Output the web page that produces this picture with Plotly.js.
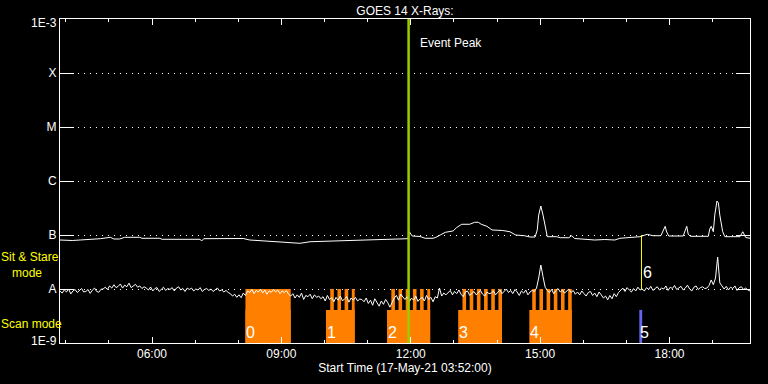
<!DOCTYPE html>
<html><head><meta charset="utf-8">
<script src="https://cdn.plot.ly/plotly-3.0.1.min.js"></script>
<style>html,body{margin:0;padding:0;background:#000;}#chart{width:768px;height:384px;}</style>
</head><body><div id="chart"></div>
<script>
// ---------------- data ----------------
const DAY = '2021-05-17';
const START = '03:52';
const END = '19:52';
const SHORT_STEP_MIN = 3;          // cadence of the short channel samples
const FLUX_UNIT = 1e-9;            // values below are in nW/m^2

// GOES long channel (1-8 A)
const longTimes = [
 '03:52','04:09','04:20','04:38','04:48','05:02','05:07','05:15','05:22','05:43',
 '05:46','06:11','06:14','07:07','07:09','07:12','07:44','07:56','08:07','08:16',
 '08:30','08:44','09:12','09:26','09:40','10:22','11:03','11:45','11:56','11:58',
 '12:02','12:13','12:20','12:31','12:35','12:41','12:48','12:59','13:04','13:11',
 '13:22','13:29','13:34','13:38','13:46','13:53','14:08','14:18','14:26','14:38',
 '14:46','14:53','14:56','14:58','15:01','15:04','15:07','15:10','15:23','15:28',
 '15:40','15:44','15:48','16:02','16:16','16:30','16:44','16:51','17:08','17:19',
 '17:29','17:37','17:48','17:51','17:54','17:56','17:59','18:19','18:22','18:24',
 '18:26','18:29','18:54','18:56','18:58','19:01','19:03','19:06','19:08','19:10',
 '19:14','19:17','19:38','19:42','19:46','19:52'];
const longFlux = [
 80.8,79.1,80.8,82.5,85.4,90.6,84.3,84.3,90.6,90.6,
 86.9,86.9,83.2,83.2,77.4,85.4,86.1,88.0,86.1,80.8,
 78.4,75.8,73.2,70.2,75.1,78.4,83.2,85.4,85.4,115,
 95.8,93.8,86.9,86.9,90.6,100,112,119,138,158,
 158,172,172,158,145,124,121,115,100,97,
 91.8,91.8,124,234,344,234,135,93,93,89.1,
 89.1,97,86.1,83.2,80.8,82.5,80.8,86.9,89.1,93,
 103,97,97,119,145,114,95.8,95.8,124,145,
 104,94.6,94.6,129,145,115,234,426,392,234,
 115,93,93,115,89.9,86.9];

// GOES short channel (0.5-4 A), one value every 3 min from START
const shortFlux = [
 9.2,8.4,9.6,8.8,10.0,8.1,9.2,9.8,8.6,9.4,10.2,8.8,9.0,9.8,8.3,9.5,10.4,9.0,8.7,9.9,
 10.0,10.8,9.8,11.4,10.4,12.0,10.6,11.2,12.4,10.4,11.8,11.0,12.8,10.6,11.6,12.2,10.8,11.4,10.2,11.0,
 10.4,9.6,10.9,9.2,10.2,10.6,9.0,10.0,10.8,9.4,10.2,9.8,10.6,9.2,10.4,11.0,9.6,10.2,9.0,10.4,
 9.8,10.4,9.2,10.0,9.6,10.6,9.0,9.8,10.2,9.4,10.0,9.0,9.8,10.4,9.2,9.6,8.8,9.4,8.6,8.2,
 7.4,8.0,7.0,7.8,6.9,8.4,7.6,9.2,8.6,9.8,8.2,9.4,8.8,9.9,8.4,9.6,8.0,9.2,8.7,9.8,
 8.8,9.6,8.2,9.2,8.6,9.4,8.0,7.4,8.2,6.8,7.8,7.0,8.4,6.4,7.6,7.2,8.0,6.6,7.8,7.0,
 7.4,6.6,7.2,6.0,7.6,6.4,6.9,5.8,7.0,6.2,7.4,6.0,6.6,7.2,5.7,6.8,6.2,7.0,6.0,6.5,
 6.4,5.8,6.8,5.4,6.2,5.0,6.6,5.6,4.8,6.0,5.2,6.4,5.6,4.6,5.8,6.8,7.6,6.2,8.0,7.0,
 6.4,7.2,5.8,6.8,6.2,7.4,5.9,6.6,7.0,6.0,7.6,6.4,7.0,5.8,7.2,6.8,10.4,7.4,8.4,7.8,
 8.6,9.4,7.8,9.0,8.2,9.6,8.0,7.2,8.8,9.2,7.6,8.4,9.0,7.8,8.6,9.4,8.0,7.4,8.8,8.2,
 8.4,9.2,7.8,8.8,9.6,8.2,9.0,10.0,8.6,9.4,8.2,9.8,8.8,7.6,9.2,8.4,9.6,7.8,8.8,9.4,
 9.0,10.4,16.0,27.8,17.0,10.8,9.4,8.6,9.8,8.2,9.4,10.2,8.8,9.6,8.4,9.2,10.0,8.6,9.4,8.0,
 8.8,7.8,9.2,8.2,7.4,8.6,9.0,7.6,8.4,7.2,8.8,7.8,6.8,7.4,6.3,7.6,6.6,8.2,7.2,8.6,
 9.4,10.4,9.0,10.6,9.6,8.8,10.2,9.2,10.8,9.6,10.0,9.2,10.6,9.8,11.2,9.4,10.2,11.0,9.6,10.4,
 10.0,11.4,9.4,10.8,10.2,11.6,9.8,10.6,11.2,9.6,10.4,11.8,10.0,9.2,10.8,11.4,9.8,10.6,11.0,10.2,
 10.4,11.6,14.7,12.0,16.0,39.0,13.0,11.4,10.0,11.2,9.6,10.8,10.2,11.4,9.4,10.6,11.0,9.8,10.4,9.6,
 9.2];

// GOES class levels
const levelVals = [1e-9, 1e-8, 1e-7, 1e-6, 1e-5, 1e-4, 1e-3];
const levelText = ['1E-9', 'A', 'B', 'C', 'M', 'X', '1E-3'];

// observation periods (scan mode) and their labels
const scanStart  = ['08:10','10:02','11:27','13:06','14:45'];
const scanEnd    = ['09:13','10:42','12:27','14:07','15:44'];
const scanLabels = ['0','1','2','3','4'];
const scanTop = 4.1e-9;
// sit & stare periods
const stareStart = ['08:10',
 '10:08','10:18','10:28','10:38',
 '11:33','11:43','11:53','12:03','12:13','12:23',
 '13:12','13:22','13:32','13:42','13:52','14:02',
 '14:49','14:59','15:09','15:19','15:29','15:39'];
const stareEnd = ['09:13',
 '10:13','10:23','10:33','10:42',
 '11:38','11:48','11:58','12:08','12:18','12:27',
 '13:17','13:27','13:37','13:47','13:57','14:07',
 '14:54','15:04','15:14','15:24','15:34','15:44'];
const stareTop = 1e-8;
// extra short observations
const scan5Start = '17:18', scan5End = '17:22', scan5Label = '5';
const stare6Time = '17:21', stare6Lo = 1e-8, stare6Hi = 1e-7, stare6Label = '6';
const eventPeak = '11:57';

// ---------------- helpers ----------------
const t = hm => `${DAY} ${hm}:00`;
const toMs = hm => { const [h, m] = hm.split(':').map(Number); return (h * 60 + m) * 60000; };
const pad = n => String(n).padStart(2, '0');
const startMin = toMs(START) / 60000;
const shortTimes = shortFlux.map((_, i) => {
  const mm = startMin + i * SHORT_STEP_MIN;
  return `${DAY} ${pad(Math.floor(mm / 60))}:${pad(mm % 60)}:00`;
});
const BASE = levelVals[0];
const PLOT = {l: 60, r: 750, t: 19, b: 343};
const pxX = px => (px - PLOT.l) / (PLOT.r - PLOT.l);
const pxY = py => (PLOT.b - py) / (PLOT.b - PLOT.t);

const ORANGE = '#ff8000';
const FONT = 'Liberation Sans, Arial, sans-serif';

const traces = [
  { type: 'bar', x: scanStart.map(t), base: scanStart.map(() => BASE),
    y: scanStart.map(() => scanTop - BASE),
    width: scanStart.map((s, i) => toMs(scanEnd[i]) - toMs(s)), offset: 0,
    marker: {color: ORANGE, line: {width: 0}}, hoverinfo: 'skip' },
  { type: 'bar', x: stareStart.map(t), base: stareStart.map(() => BASE),
    y: stareStart.map(() => stareTop - BASE),
    width: stareStart.map((s, i) => toMs(stareEnd[i]) - toMs(s)), offset: 0,
    marker: {color: ORANGE, line: {width: 0}}, hoverinfo: 'skip' },
  { type: 'bar', x: [t(scan5Start)], base: [BASE], y: [scanTop - BASE],
    width: [toMs(scan5End) - toMs(scan5Start)], offset: 0,
    marker: {color: '#6464f0', line: {width: 0}}, hoverinfo: 'skip' },
  { type: 'scatter', mode: 'lines', x: shortTimes, y: shortFlux.map(v => v * FLUX_UNIT),
    line: {color: '#ffffff', width: 1} },
  { type: 'scatter', mode: 'lines', x: longTimes.map(t), y: longFlux.map(v => v * FLUX_UNIT),
    line: {color: '#ffffff', width: 1} },
  { type: 'scatter', mode: 'lines', x: [t(stare6Time), t(stare6Time)], y: [stare6Lo, stare6Hi],
    line: {color: '#ffff00', width: 1} },
  { type: 'scatter', mode: 'lines', x: [t(eventPeak), t(eventPeak)], y: [levelVals[0], levelVals[6]],
    line: {color: '#9acd00', width: 2.5} }
];

const annotations = [];
const digitFont = {family: FONT, size: 16, color: '#ffffff'};
scanStart.forEach((s, i) => annotations.push({
  x: t(s), xref: 'x', y: pxY(332.5), yref: 'paper', text: scanLabels[i],
  xanchor: 'left', yanchor: 'middle', showarrow: false, xshift: -1, font: digitFont
}));
annotations.push({ x: t(scan5Start), xref: 'x', y: pxY(332.5), yref: 'paper', text: scan5Label,
  xanchor: 'left', yanchor: 'middle', showarrow: false, xshift: -1, font: digitFont });
annotations.push({ x: t(stare6Time), xref: 'x', y: pxY(272.5), yref: 'paper', text: stare6Label,
  xanchor: 'left', yanchor: 'middle', showarrow: false, xshift: 0, font: digitFont });
annotations.push({ x: t(eventPeak), xref: 'x', y: pxY(42.5), yref: 'paper', text: 'Event Peak',
  xanchor: 'left', yanchor: 'middle', showarrow: false, xshift: 9,
  font: {family: FONT, size: 12, color: '#ffffff'} });
// side labels for the observation modes
const yellowFont = {family: FONT, size: 12, color: '#ffff00'};
annotations.push({ x: pxX(0), xref: 'paper', y: pxY(265), yref: 'paper', text: 'Sit &amp; Stare',
  xanchor: 'left', yanchor: 'bottom', borderpad: 0, showarrow: false, font: yellowFont });
annotations.push({ x: pxX(11), xref: 'paper', y: pxY(265), yref: 'paper', text: 'mode',
  xanchor: 'left', yanchor: 'top', borderpad: 0, showarrow: false, font: yellowFont });
annotations.push({ x: pxX(0), xref: 'paper', y: pxY(324), yref: 'paper', text: 'Scan mode',
  xanchor: 'left', yanchor: 'middle', borderpad: 0, showarrow: false, font: yellowFont });
// the two end labels of the flux axis sit slightly inside the axis range
[[levelText[6], 23], [levelText[0], 340.5]].forEach(([txt, py]) =>
  annotations.push({ x: pxX(57.5), xref: 'paper', y: pxY(py), yref: 'paper', text: txt,
    xanchor: 'right', yanchor: 'middle', borderpad: 0, showarrow: false,
    font: {family: FONT, size: 12, color: '#ffffff'} }));

const layout = {
  width: 768, height: 384,
  margin: {l: 60, r: 18, t: 19, b: 41, pad: 0},
  paper_bgcolor: '#000000', plot_bgcolor: '#000000',
  showlegend: false, barmode: 'overlay',
  font: {family: FONT, size: 12, color: '#ffffff'},
  title: {text: 'GOES 14 X-Rays:', font: {family: FONT, size: 12, color: '#ffffff'},
    xref: 'paper', x: 0.5, xanchor: 'center', yref: 'container', y: 1 - 11 / 384, yanchor: 'middle'},
  xaxis: {
    type: 'date', range: [t(START), t(END)],
    tickmode: 'linear', tick0: `${DAY} 00:00:00`, dtick: 3 * 3600000, tickformat: '%H:%M',
    ticks: 'inside', ticklen: 6, tickwidth: 1, tickcolor: '#ffffff',
    minor: {tickmode: 'linear', tick0: `${DAY} 00:00:00`, dtick: 3600000, ticks: 'inside', ticklen: 3, tickcolor: '#ffffff', showgrid: false},
    showline: true, linecolor: '#ffffff', linewidth: 1, mirror: 'ticks',
    showgrid: false, zeroline: false,
    tickfont: {family: FONT, size: 12, color: '#ffffff'},
    title: {text: 'Start Time (17-May-21 03:52:00)', standoff: 3, font: {family: FONT, size: 12, color: '#ffffff'}},
    automargin: false
  },
  yaxis: {
    type: 'log', range: [-9, -3],
    tickmode: 'array', tickvals: levelVals,
    ticktext: levelText.map((s, i) => (i === 0 || i === levelText.length - 1) ? '' : s),
    ticks: 'inside', ticklen: 14, tickwidth: 1, tickcolor: '#ffffff',
    showline: true, linecolor: '#ffffff', linewidth: 1, mirror: 'ticks',
    showgrid: true, gridcolor: '#ffffff', gridwidth: 1, griddash: '1px,5px',
    zeroline: false,
    tickfont: {family: FONT, size: 12, color: '#ffffff'},
    automargin: false
  },
  annotations: annotations
};

Plotly.newPlot('chart', traces, layout, {staticPlot: true, displayModeBar: false});
</script>
</body></html>
